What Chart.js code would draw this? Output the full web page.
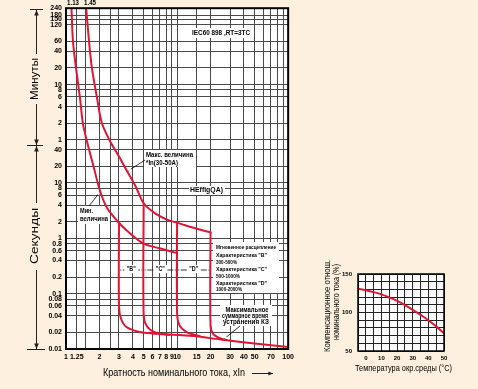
<!DOCTYPE html>
<html>
<head>
<meta charset="utf-8">
<script src="https://cdn.jsdelivr.net/npm/chart.js@4.4.0/dist/chart.umd.min.js"></script>
<style>
  html, body { margin: 0; padding: 0; background: #fdf0df; }
  #wrap { position: relative; width: 478px; height: 389px; overflow: hidden; }
  #main { position: absolute; left: 0; top: 0; }
  #temp { position: absolute; left: 290px; top: 240px; }
</style>
</head>
<body>
<div id="wrap">
  <canvas id="main" width="298" height="389"></canvas>
  <canvas id="temp" width="188" height="149"></canvas>
</div>
<script>
// time-current curves: [multiple of In, seconds]
const minCurve = [[1.12, 14400], [1.155, 3700], [1.23, 1200], [1.335, 350], [1.42, 118], [1.54, 58],
  [1.78, 19], [2.02, 7.3], [2.33, 3.6], [2.87, 2.1], [3.52, 1.39], [5, 0.8], [6.97, 0.66], [10, 0.54]];
const maxCurve = [[1.52, 14400], [1.61, 3700], [1.71, 1200], [1.9, 350], [2.1, 123], [2.48, 58],
  [3.0, 30], [3.52, 16.8], [4.2, 9], [5, 4.3], [6.3, 2.85], [8, 2.2], [10.5, 1.86], [14, 1.55], [20, 1.28]];
const tripB = [[3, 1.95], [3, 0.06], [3.12, 0.036], [3.5, 0.025], [4.6, 0.0203], [6.5, 0.0188]];
const trip5 = [[5, 4.3], [5, 0.041], [5.33, 0.026], [6.28, 0.0202], [8.5, 0.018]];
const trip10 = [[10, 1.9], [10, 0.045], [10.5, 0.027], [12.2, 0.0202], [16, 0.0171]];
const trip20 = [[20, 1.28], [20, 0.027], [21.2, 0.0186], [25, 0.0153], [28, 0.0145]];
const clearLine = [[6, 0.0192], [7, 0.0186], [14, 0.0171], [25.6, 0.0147], [55, 0.0123], [100, 0.0109]];

const xGrid = [1, 1.25, 1.5, 2, 2.5, 3, 4, 5, 6, 7, 8, 9, 10, 15, 20, 30, 40, 50, 60, 70, 80, 90, 100];
const xLabels = [1, 1.25, 2, 3, 4, 5, 6, 7, 8, 9, 10, 15, 20, 30, 40, 50, 70, 100];
// seconds; 60 and above are shown in minutes
const yTicks = [0.01, 0.02, 0.04, 0.06, 0.08, 0.1, 0.2, 0.4, 0.6, 0.8, 1, 2, 4, 6, 8, 10, 20, 40,
  60, 120, 240, 360, 480, 600, 1200, 2400, 3600, 7200, 9000, 10800, 14400];

// temperature compensation
const tempX = [-5, 0, 5, 10, 15, 20, 25, 30, 35, 40, 45, 50];
const tempY = [131, 129, 126.5, 123.5, 119.5, 115, 109.5, 103.5, 97, 90, 82, 73];
const tempXTicks = [-5, 0, 5, 10, 15, 20, 25, 30, 35, 40, 45, 50];
const tempYTicks = [50, 60, 70, 80, 90, 100, 110, 120, 130, 140, 150];

const RED = "rgb(226,20,52)";
const FONT = "'Liberation Sans', Arial, sans-serif";
const tickFont = { family: FONT, size: 7, weight: "bold" };

function line(points) {
  return {
    data: points.map(([x, y]) => ({ x, y })),
    showLine: true, borderColor: RED, borderWidth: 2, pointRadius: 0,
    tension: 0.3, fill: false, borderCapStyle: "round", borderJoinStyle: "round"
  };
}

function fitText(ctx, text, x, y, w, size, opts = {}) {
  ctx.save();
  ctx.font = (opts.bold ? "bold " : "") + size + "px " + FONT;
  const m = ctx.measureText(text).width;
  ctx.translate(x, y);
  if (opts.rot) ctx.rotate(opts.rot);
  ctx.scale(w / m, 1);
  ctx.textAlign = opts.align || "left";
  ctx.textBaseline = "middle";
  ctx.fillStyle = "#000";
  ctx.fillText(text, 0, 0);
  ctx.restore();
}

function box(ctx, x, y, w, h) {
  ctx.fillStyle = "#fff";
  ctx.fillRect(x, y, w, h);
}

function arrow(ctx, x1, y1, x2, y2, head = 4) {
  const a = Math.atan2(y2 - y1, x2 - x1);
  ctx.beginPath();
  ctx.moveTo(x1, y1);
  ctx.lineTo(x2, y2);
  ctx.stroke();
  ctx.beginPath();
  ctx.moveTo(x2, y2);
  ctx.lineTo(x2 - head * Math.cos(a - 0.4), y2 - head * Math.sin(a - 0.4));
  ctx.lineTo(x2 - head * Math.cos(a + 0.4), y2 - head * Math.sin(a + 0.4));
  ctx.closePath();
  ctx.fill();
}

const mainDecor = {
  id: "mainDecor",
  beforeDraw(chart) {
    const { ctx, chartArea: a } = chart;
    ctx.save();
    ctx.fillStyle = "#fff";
    ctx.fillRect(a.left, a.top, a.width, a.height);
    ctx.restore();
  },
  beforeDatasetsDraw(chart) {
    const { ctx } = chart;
    const xs = chart.scales.x;
    ctx.save();
    ctx.strokeStyle = "#000";
    ctx.fillStyle = "#000";
    ctx.lineWidth = 0.8;

    box(ctx, 189, 28, 64, 10);
    fitText(ctx, "IEC60 898 ,RT=3TC", 192, 33, 58, 6.5, { bold: true });

    box(ctx, 144, 150, 52, 17);
    fitText(ctx, "Макс. величина", 146, 155, 47, 6.5, { bold: true });
    fitText(ctx, "*In(30-50A)", 146, 163, 32, 6.5, { bold: true });
    arrow(ctx, 145, 160, 128, 171, 3.5);

    box(ctx, 189, 186, 36, 9);
    fitText(ctx, "HEffigQA)", 190, 190, 33, 6.5, { bold: true });

    box(ctx, 78, 206, 32, 18);
    fitText(ctx, "Мин.", 80, 211, 13, 6.5, { bold: true });
    fitText(ctx, "величина", 80, 219, 28, 6.5, { bold: true });
    arrow(ctx, 89, 206, 100, 192, 3.5);

    const bands = [[3, 5, '"B"'], [5, 10, '"C"'], [10, 20, '"D"']];
    bands.forEach(([a, b, t]) => {
      const p1 = xs.getPixelForValue(a) + 1, p2 = xs.getPixelForValue(b) - 1;
      const mid = (p1 + p2) / 2;
      arrow(ctx, mid, 270, p1, 270, 3);
      arrow(ctx, mid, 270, p2, 270, 3);
      box(ctx, mid - 7, 265, 14, 8);
      fitText(ctx, t, mid, 269, 9, 7, { bold: true, align: "center" });
    });

    box(ctx, 213, 242, 66, 51);
    fitText(ctx, "Мгновенное расцепление", 216, 247, 60, 6, { bold: true });
    fitText(ctx, "Характеристика \"B\"", 216, 255, 51, 6, { bold: true });
    fitText(ctx, "300-500%", 216, 262, 21, 6, { bold: true });
    fitText(ctx, "Характеристика \"C\"", 216, 269.5, 51, 6, { bold: true });
    fitText(ctx, "500-1000%", 216, 276, 24, 6, { bold: true });
    fitText(ctx, "Характеристика \"D\"", 216, 283, 51, 6, { bold: true });
    fitText(ctx, "1000-2000%", 216, 289, 26, 6, { bold: true });

    box(ctx, 220, 305, 52, 21);
    fitText(ctx, "Максимальное", 247, 310, 43, 6.5, { bold: true, align: "center" });
    fitText(ctx, "суммарное время", 245, 316, 46, 6.5, { bold: true, align: "center" });
    fitText(ctx, "устранения КЗ", 246, 322, 46, 6.5, { bold: true, align: "center" });
    arrow(ctx, 240, 326, 224, 339, 3.5);
    ctx.restore();
  },
  afterDraw(chart) {
    const { ctx, chartArea: a } = chart;
    ctx.save();
    ctx.strokeStyle = "#000";
    ctx.lineWidth = 2;
    ctx.strokeRect(a.left, a.top, a.width, a.height);

    fitText(ctx, "1.13", 73, 3.5, 12, 7, { bold: true, align: "center" });
    fitText(ctx, "1.45", 90, 3.5, 12, 7, { bold: true, align: "center" });

    // units strip on the left
    ctx.strokeStyle = "#222";
    ctx.fillStyle = "#222";
    ctx.lineWidth = 1;
    const ax = 36.5;
    ctx.beginPath();
    ctx.moveTo(30, 9.5); ctx.lineTo(43, 9.5);
    ctx.moveTo(27, 145.5); ctx.lineTo(43, 145.5);
    ctx.moveTo(27, 349.5); ctx.lineTo(45, 349.5);
    ctx.stroke();
    arrow(ctx, ax, 54, ax, 10, 6);
    arrow(ctx, ax, 104, ax, 145, 6);
    arrow(ctx, ax, 203, ax, 146, 6);
    arrow(ctx, ax, 270, ax, 349, 6);
    fitText(ctx, "Минуты", 35, 79, 42, 10, { rot: -Math.PI / 2, align: "center" });
    fitText(ctx, "Секунды", 35, 236, 56, 10, { rot: -Math.PI / 2, align: "center" });

    fitText(ctx, "Кратность номинального тока, xIn", 103, 373, 142, 11);
    ctx.lineWidth = 1;
    arrow(ctx, 252, 373.5, 273, 373.5, 5);
    ctx.restore();
  }
};

new Chart(document.getElementById("main"), {
  type: "scatter",
  data: {
    datasets: [line(minCurve), line(maxCurve), line(tripB), line(trip5), line(trip10), line(trip20), line(clearLine)]
  },
  options: {
    responsive: false,
    animation: false,
    layout: { padding: { top: 7, right: 9, left: 0, bottom: 0 } },
    plugins: { legend: { display: false }, tooltip: { enabled: false } },
    scales: {
      x: {
        type: "logarithmic", min: 1, max: 100,
        afterBuildTicks: (s) => { s.ticks = xGrid.map((v) => ({ value: v })); },
        afterFit: (s) => { s.height = 40; },
        border: { display: false },
        grid: { color: "#4a4a4a", lineWidth: 1, drawTicks: false },
        ticks: {
          autoSkip: false, maxRotation: 0, minRotation: 0, padding: 4, color: "#000", font: tickFont,
          callback: (v) => (xLabels.includes(v) ? String(v) : "")
        }
      },
      y: {
        type: "logarithmic", min: 0.01, max: 14400,
        afterBuildTicks: (s) => { s.ticks = yTicks.map((v) => ({ value: v })); },
        afterFit: (s) => { s.width = 66; },
        border: { display: false },
        grid: { color: "#4a4a4a", lineWidth: 1, drawTicks: false },
        ticks: {
          autoSkip: false, padding: 4, color: "#000", font: tickFont,
          callback: (v) => (v >= 60 ? String(v / 60) : String(v))
        }
      }
    }
  },
  plugins: [mainDecor]
});

const OX = 290, OY = 240;
const tempDecor = {
  id: "tempDecor",
  beforeDraw(chart) {
    const { ctx, chartArea: a } = chart;
    ctx.save();
    ctx.fillStyle = "#fff";
    ctx.fillRect(a.left, a.top, a.width, a.height);
    ctx.restore();
  },
  afterDraw(chart) {
    const { ctx, chartArea: a } = chart;
    ctx.save();
    ctx.strokeStyle = "#000";
    ctx.lineWidth = 1.5;
    ctx.strokeRect(a.left, a.top, a.width, a.height);
    fitText(ctx, "Компенсационное отнош.", 328 - OX, 306 - OY, 92, 9, { rot: -Math.PI / 2, align: "center" });
    fitText(ctx, "номинального тока (%)", 337 - OX, 302 - OY, 76, 9, { rot: -Math.PI / 2, align: "center" });
    fitText(ctx, "Температура окр.среды (°C)", 355 - OX, 369 - OY, 97, 9);
    ctx.restore();
  }
};

new Chart(document.getElementById("temp"), {
  type: "scatter",
  data: {
    datasets: [{
      data: tempX.map((x, i) => ({ x, y: tempY[i] })),
      showLine: true, borderColor: RED, borderWidth: 2, pointRadius: 0, tension: 0.4
    }]
  },
  options: {
    responsive: false,
    animation: false,
    layout: { padding: { top: 34, right: 34, left: 0, bottom: 0 } },
    plugins: { legend: { display: false }, tooltip: { enabled: false } },
    scales: {
      x: {
        type: "linear", min: -5, max: 50,
        afterBuildTicks: (s) => { s.ticks = tempXTicks.map((v) => ({ value: v })); },
        afterFit: (s) => { s.height = 38; },
        border: { display: false },
        grid: { color: "#222", lineWidth: 1, drawTicks: false },
        ticks: {
          autoSkip: false, maxRotation: 0, padding: 4, color: "#000",
          font: { family: FONT, size: 6, weight: "bold" },
          callback: (v) => (v % 10 === 0 ? String(v) : "")
        }
      },
      y: {
        type: "linear", min: 50, max: 150,
        afterBuildTicks: (s) => { s.ticks = tempYTicks.map((v) => ({ value: v })); },
        afterFit: (s) => { s.width = 68; },
        border: { display: false },
        grid: { color: "#222", lineWidth: 1, drawTicks: false },
        ticks: {
          autoSkip: false, padding: 6, color: "#000",
          font: { family: FONT, size: 6, weight: "bold" },
          callback: (v) => ([50, 100, 150].includes(v) ? String(v) : "")
        }
      }
    }
  },
  plugins: [tempDecor]
});
</script>
</body>
</html>
